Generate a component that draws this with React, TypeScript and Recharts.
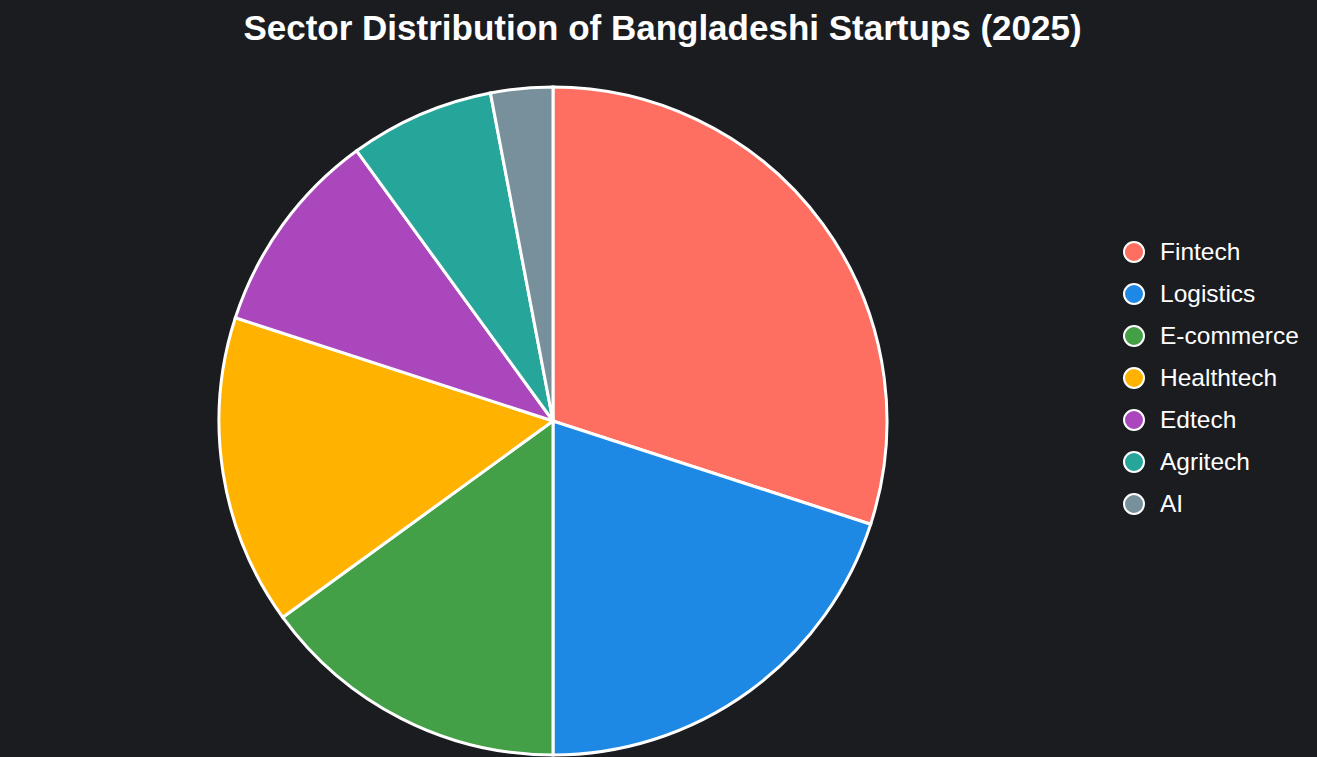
import React from "react";
import { PieChart, Pie, Cell, Legend } from "recharts";

const sectors = ["Fintech", "Logistics", "E-commerce", "Healthtech", "Edtech", "Agritech", "AI"];
const shares = [30, 20, 15, 15, 10, 7, 3];
const colors = ["#FF6F61", "#1E88E5", "#43A047", "#FFB300", "#AB47BC", "#26A69A", "#78909C"];

const data = sectors.map((name, i) => ({ name, value: shares[i] }));

const W = 1317;
const H = 757;

const renderLegend = () => (
  <div style={{ display: "flex", flexDirection: "column" }}>
    {data.map((d, i) => (
      <div key={d.name} style={{ display: "flex", alignItems: "center", height: 42 }}>
        <span
          style={{
            width: 18,
            height: 18,
            borderRadius: "50%",
            background: colors[i],
            border: "2.5px solid #ffffff",
            marginRight: 15,
            flexShrink: 0,
          }}
        />
        <span style={{ color: "#ffffff", fontSize: 24.5, fontFamily: "Liberation Sans, Arial, sans-serif" }}>{d.name}</span>
      </div>
    ))}
  </div>
);

export default function App() {
  return (
    <div
      style={{
        position: "fixed",
        left: 0,
        top: 0,
        width: W,
        height: H,
        background: "#1B1C20",
        overflow: "hidden",
      }}
    >
      <div
        style={{
          position: "absolute",
          left: 4,
          top: 8,
          width: W,
          textAlign: "center",
          color: "#ffffff",
          fontWeight: "bold",
          fontSize: 35,
          fontFamily: "Liberation Sans, Arial, sans-serif",
          lineHeight: "40px",
        }}
      >
        Sector Distribution of Bangladeshi Startups (2025)
      </div>
      <PieChart width={W} height={H} margin={{ top: 0, right: 0, bottom: 0, left: 0 }}>
        <Pie
          data={data}
          dataKey="value"
          nameKey="name"
          cx={553}
          cy={421}
          outerRadius={334}
          startAngle={90}
          endAngle={-270}
          stroke="#ffffff"
          strokeWidth={3}
          isAnimationActive={false}
        >
          {data.map((d, i) => (
            <Cell key={d.name} fill={colors[i]} />
          ))}
        </Pie>
        <Legend
          content={renderLegend}
          layout="vertical"
          wrapperStyle={{ position: "absolute", left: 1123, top: 231, width: 194 }}
        />
      </PieChart>
    </div>
  );
}
